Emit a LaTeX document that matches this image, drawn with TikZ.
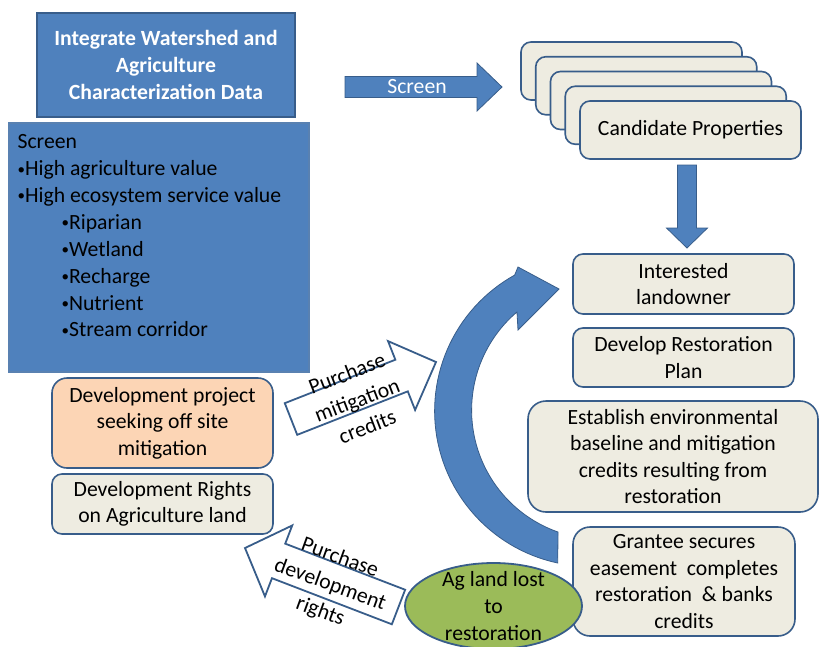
\documentclass[tikz,border=0pt]{standalone}
\usepackage{fontspec}
\setmainfont{Carlito}
\usetikzlibrary{calc,shapes.geometric}
\definecolor{accblue}{HTML}{4F81BD}
\definecolor{edgeblue}{HTML}{385D8A}
\definecolor{paper}{HTML}{EEECE1}
\definecolor{peach}{HTML}{FCD5B5}
\definecolor{leaf}{HTML}{9BBB59}
\newcommand{\basefont}{\fontsize{21.7}{26.6}\selectfont}
\newcommand{\dotb}{{\fontsize{15}{15}\selectfont\raisebox{1.5pt}{•}}}
\newcommand{\blockarrow}[6][]{%
  \coordinate (ba-j) at ($(#3)!#6pt!(#2)$);
  \draw[#1] ($(#2)!#4pt!90:(#3)$) -- ($(ba-j)!#4pt!90:(#3)$) -- ($(ba-j)!#5pt!90:(#3)$) -- (#3)
    -- ($(ba-j)!#5pt!-90:(#3)$) -- ($(ba-j)!#4pt!-90:(#3)$) -- ($(#2)!#4pt!-90:(#3)$) -- cycle;
}
\begin{document}
\begin{tikzpicture}[x=1pt, y=-1pt,
    every node/.style={font=\basefont},
    pbox/.style={draw=edgeblue, line width=1.6pt, fill=paper, rounded corners=10pt,
      align=center, minimum width=221pt, inner sep=0pt},
    bluebox/.style={draw=edgeblue, line width=1.2pt, fill=accblue},
    hollow/.style={draw=edgeblue, line width=1.8pt, fill=white, line join=miter},
    bigarrow/.style={draw=edgeblue, line width=0.8pt, fill=accblue},
    slanted/.style={align=center, font=\fontsize{21.7}{28.5}\selectfont}]
  \useasboundingbox (0,0) rectangle (822,646);
  \node[bluebox, minimum width=258pt, minimum height=104pt, text=white, align=center,
    font=\basefont\bfseries] (intdata) at (166,65)
    {Integrate Watershed and\\Agriculture\\Characterization Data};
  \node[bluebox, draw=accblue!80!gray, minimum width=300pt, minimum height=249pt] (screenbox) at (159,247.5) {};
  \node[anchor=north west, align=left, inner sep=0pt, font=\fontsize{21.7}{26.9}\selectfont] (screenlist)
    at ($(screenbox.north west)+(9,12)$)
    {Screen\\
     \dotb High agriculture value\\
     \dotb High ecosystem service value\\
     \hspace*{44pt}\dotb Riparian\\
     \hspace*{44pt}\dotb Wetland\\
     \hspace*{44pt}\dotb Recharge\\
     \hspace*{44pt}\dotb Nutrient\\
     \hspace*{44pt}\dotb Stream corridor};

  \coordinate (scr-tail) at (345,87);
  \coordinate (scr-tip) at (502,87);
  \blockarrow[bigarrow]{scr-tail}{scr-tip}{10.5}{24}{25}
  \node[text=white] (scrlbl) at (417,87) {Screen};

  \foreach \i in {0,...,3}
    \node[pbox, minimum height=58pt] (cand\i) at ({631.5+14.75*\i},{71+14.75*\i}) {};
  \node[pbox, minimum height=58pt] (cand) at (690.5,130) {Candidate Properties};

  \coordinate (dn-tail) at (687,165);
  \coordinate (dn-tip) at (687,248);
  \blockarrow[bigarrow]{dn-tail}{dn-tip}{9.5}{20.5}{20}

  \node[pbox, minimum height=60pt] (landowner) at (683.5,284) {Interested\\landowner};
  \node[pbox, minimum height=59pt] (plan) at (683.5,357.5) {Develop Restoration\\Plan};
  \node[pbox, minimum width=290pt, minimum height=111pt, rounded corners=18pt] (baseline) at (673,456.5)
    {Establish environmental\\baseline and mitigation\\credits resulting from\\restoration};
  \node[pbox, minimum width=222pt, minimum height=109pt, rounded corners=17pt] (grantee) at (684,581.5)
    {Grantee secures\\easement\ \ completes\\restoration\ \ \& banks\\credits};

  \node[pbox, fill=peach, minimum height=90pt, rounded corners=15pt] (devproj) at (162.5,423)
    {Development project\\seeking off site\\mitigation};
  \node[pbox, minimum height=60pt] (devrights) at (162.5,504) {Development Rights\\on Agriculture land};

  \draw[bigarrow] plot[domain=102:241, samples=60] ({590+155.4*cos(\x)},{411+155.4*sin(\x)})
    -- (518,267) -- (559,289) -- (518,330) -- (517,312)
    -- plot[domain=229.5:109.3, samples=60] ({600.7+129.1*cos(\x)},{410.2+129.1*sin(\x)}) -- cycle;

  \coordinate (mit-tail) at (291,419);
  \coordinate (mit-tip) at (436,362);
  \blockarrow[hollow]{mit-tail}{mit-tip}{17}{37}{37}
  \node[slanted, rotate=21] (mitlbl) at (357,400) {Purchase\\mitigation\\credits};

  \coordinate (dev-tail) at (398.5,607);
  \coordinate (dev-tip) at (245,548);
  \blockarrow[hollow]{dev-tail}{dev-tip}{18.5}{38}{36}
  \node[slanted, rotate=-20] (devlbl) at (330,585) {Purchase\\development\\rights};

  \node[ellipse, draw=edgeblue, line width=1.8pt, fill=leaf, minimum width=177pt, minimum height=86pt,
    inner sep=0pt] (aglost) at (493.5,606) {};
  \node[align=center] (aglbl) at (aglost) {Ag land lost\\to\\restoration};
\end{tikzpicture}
\end{document}
